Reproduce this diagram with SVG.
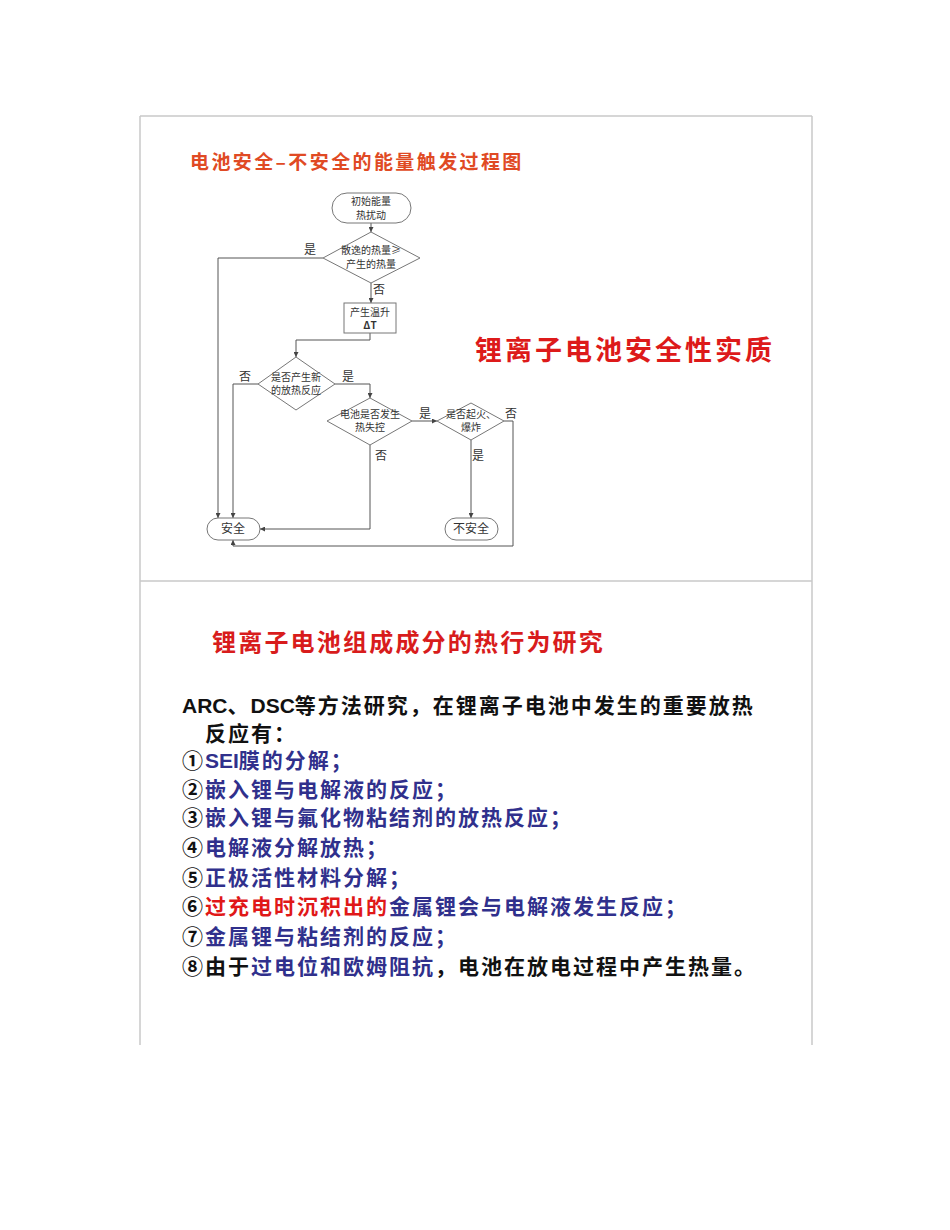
<svg xmlns="http://www.w3.org/2000/svg" width="950" height="1230" viewBox="0 0 950 1230">
<style>
.frame{stroke:#c8c8c8;stroke-width:1.5;fill:none}
.node{fill:#fff;stroke:#777;stroke-width:1}
.conn{fill:none;stroke:#555;stroke-width:1}
.ft{font-family:"Noto Sans CJK SC","Liberation Serif",serif;font-size:10px;fill:#333;text-anchor:middle}
.lbl{font-family:"Noto Sans CJK SC","Liberation Serif",serif;font-size:12px;fill:#333;text-anchor:middle}
.title1{font-family:"Noto Sans CJK SC",sans-serif;font-size:19px;font-weight:bold;fill:#e04a24;letter-spacing:2.4px}
.title2{font-family:"Noto Sans CJK SC",sans-serif;font-size:27px;font-weight:bold;fill:#dd1a1a;letter-spacing:3px}
.title3{font-family:"Noto Sans CJK SC",sans-serif;font-size:24px;font-weight:bold;fill:#d81c1c;letter-spacing:2.2px}
.body{font-family:"Noto Sans CJK SC","Liberation Sans",sans-serif;font-size:21px;font-weight:bold;fill:#111;letter-spacing:2px}
.lat{font-family:"Liberation Sans","Noto Sans CJK SC",sans-serif;letter-spacing:0}
.blue{fill:#30308c}
.red{fill:#e01818}
</style>
<defs>
<marker id="ah" viewBox="0 0 10 10" refX="10" refY="5" markerWidth="5" markerHeight="5" orient="auto" markerUnits="userSpaceOnUse">
<path d="M0,0 L10,5 L0,10 z" fill="#444"/>
</marker>
</defs>
<rect width="950" height="1230" fill="#fff"/>
<g id="frame">
<line class="frame" x1="140" y1="116" x2="812" y2="116"/>
<line class="frame" x1="140" y1="581" x2="812" y2="581"/>
<line class="frame" x1="140" y1="116" x2="140" y2="1045"/>
<line class="frame" x1="812" y1="116" x2="812" y2="1045"/>
</g>
<text id="title-top" class="title1" x="190" y="169">电池安全–不安全的能量触发过程图</text>
<text id="title-right" class="title2" x="475" y="360">锂离子电池安全性实质</text>

<g id="connectors">
<line class="conn" x1="371" y1="223" x2="371" y2="232" marker-end="url(#ah)"/>
<line class="conn" x1="371" y1="283" x2="371" y2="303" marker-end="url(#ah)"/>
<polyline class="conn" points="323,258 218,258 218,518" marker-end="url(#ah)"/>
<polyline class="conn" points="370,333 370,340 296,340 296,357" marker-end="url(#ah)"/>
<polyline class="conn" points="258,384 233,384 233,518" marker-end="url(#ah)"/>
<polyline class="conn" points="335,384 370,384 370,398" marker-end="url(#ah)"/>
<line class="conn" x1="412" y1="421" x2="437" y2="421" marker-end="url(#ah)"/>
<polyline class="conn" points="370,445 370,529 260,529" marker-end="url(#ah)"/>
<line class="conn" x1="471" y1="440" x2="471" y2="518" marker-end="url(#ah)"/>
<polyline class="conn" points="504,421 513,421 513,546 233,546 233,540" marker-end="url(#ah)"/>
<text class="lbl" x="310" y="254">是</text>
<text class="lbl" x="379" y="294">否</text>
<text class="lbl" x="245" y="381">否</text>
<text class="lbl" x="348" y="381">是</text>
<text class="lbl" x="425" y="418">是</text>
<text class="lbl" x="511" y="418">否</text>
<text class="lbl" x="381" y="460">否</text>
<text class="lbl" x="478" y="460">是</text>
</g>

<g id="start">
<rect class="node" x="332" y="193" width="79" height="30" rx="15"/>
<text class="ft" x="371" y="205">初始能量</text>
<text class="ft" x="371" y="219">热扰动</text>
</g>
<g id="d1">
<polygon class="node" points="371,232 420,258 371,283 323,258"/>
<text class="ft" x="371" y="254">散逸的热量≥</text>
<text class="ft" x="371" y="268">产生的热量</text>
</g>
<g id="box">
<rect class="node" x="344" y="303" width="52" height="30"/>
<text class="ft" x="370" y="316">产生温升</text>
<text class="ft" x="370" y="329" font-weight="bold">ΔT</text>
</g>
<g id="d2">
<polygon class="node" points="296,357 335,384 296,410 258,384"/>
<text class="ft" x="296" y="381">是否产生新</text>
<text class="ft" x="296" y="394">的放热反应</text>
</g>
<g id="d3">
<polygon class="node" points="370,398 412,421 370,445 327,421"/>
<text class="ft" x="370" y="418" font-size="9.5">电池是否发生</text>
<text class="ft" x="370" y="431" font-size="9.5">热失控</text>
</g>
<g id="d4">
<polygon class="node" points="471,403 504,421 471,440 437,421"/>
<text class="ft" x="471" y="418" font-size="9.5">是否起火、</text>
<text class="ft" x="471" y="431" font-size="9.5">爆炸</text>
</g>
<g id="safe">
<rect class="node" x="207" y="518" width="53" height="22" rx="11"/>
<text class="lbl" x="233" y="533">安全</text>
</g>
<g id="unsafe">
<rect class="node" x="445" y="518" width="53" height="22" rx="11"/>
<text class="lbl" x="471" y="533">不安全</text>
</g>

<text id="title-lower" class="title3" x="212" y="651">锂离子电池组成成分的热行为研究</text>
<g id="list">
<text class="body" x="182" y="713"><tspan class="lat">ARC</tspan>、<tspan class="lat">DSC</tspan>等方法研究，在锂离子电池中发生的重要放热</text>
<text class="body" x="205" y="741">反应有：</text>
<text class="body" x="182" y="768">①<tspan class="blue lat">SEI</tspan><tspan class="blue">膜的分解；</tspan></text>
<text class="body" x="182" y="797">②<tspan class="blue">嵌入锂与电解液的反应；</tspan></text>
<text class="body" x="182" y="825">③<tspan class="blue">嵌入锂与氟化物粘结剂的放热反应；</tspan></text>
<text class="body" x="182" y="855">④<tspan class="blue">电解液分解放热；</tspan></text>
<text class="body" x="182" y="885">⑤<tspan class="blue">正极活性材料分解；</tspan></text>
<text class="body" x="182" y="914">⑥<tspan class="red">过充电时沉积出的</tspan><tspan class="blue">金属锂会与电解液发生反应；</tspan></text>
<text class="body" x="182" y="944">⑦<tspan class="blue">金属锂与粘结剂的反应；</tspan></text>
<text class="body" x="182" y="974">⑧由于<tspan class="blue">过电位和欧姆阻抗</tspan>，电池在放电过程中产生热量。</text>
</g>
</svg>
